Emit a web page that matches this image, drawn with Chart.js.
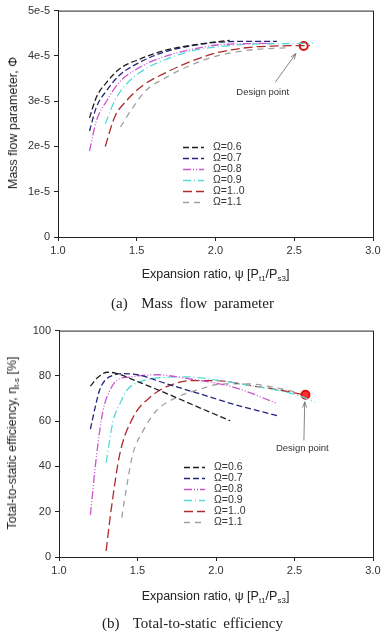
<!DOCTYPE html>
<html>
<head>
<meta charset="utf-8">
<script src="https://cdn.jsdelivr.net/npm/chart.js@4.4.0/dist/chart.umd.min.js"></script>
<style>
  body { margin: 0; background: #fff; }
  #page { position: relative; width: 385px; height: 639px; font-family: Arial, "Liberation Sans", sans-serif; color: #222; }
  canvas { position: absolute; left: 0; }
  .xtitle { position: absolute; left: 58px; width: 315px; text-align: center; font-size: 12.5px; white-space: nowrap; }
  .ytitle { position: absolute; font-size: 12.5px; white-space: nowrap; transform: translate(-50%, -50%) rotate(-90deg); }
  .caption { position: absolute; left: 0; width: 385px; text-align: center; font-family: "Times New Roman", "Liberation Serif", serif; font-size: 15px; word-spacing: 3px; }
  sub { font-size: 8px; vertical-align: -3px; }
</style>
</head>
<body>
<div id="page">
  <canvas id="chartA" width="385" height="290" style="top:0"></canvas>
  <div class="xtitle" style="top:267px">Expansion ratio, &psi; [P<sub>t1</sub>/P<sub>s3</sub>]</div>
  <div class="ytitle" style="left:13px; top:123px">Mass flow parameter, &Phi;</div>
  <div class="caption" style="top:295px">(a)&nbsp; Mass flow parameter</div>

  <canvas id="chartB" width="385" height="290" style="top:320px"></canvas>
  <div class="xtitle" style="top:589px">Expansion ratio, &psi; [P<sub>t1</sub>/P<sub>s3</sub>]</div>
  <div class="ytitle" style="left:13px; top:443px">Total-to-static efficiency, &eta;<sub>t-s</sub> [%]</div>
  <div class="caption" style="top:615px">(b)&nbsp; Total-to-static efficiency</div>
</div>
<script>
// series names
const omegaLabels = ['Ω=0.6', 'Ω=0.7', 'Ω=0.8', 'Ω=0.9', 'Ω=1..0', 'Ω=1.1'];

// ticks
const xTicks = ['1.0', '1.5', '2.0', '2.5', '3.0'];
const yTicksA = ['0', '1e-5', '2e-5', '3e-5', '4e-5', '5e-5'];
const yTicksB = ['0', '20', '40', '60', '80', '100'];

// (a) mass flow parameter - expansion ratio
const psiA06 = [1.2, 1.244, 1.31, 1.39, 1.52, 1.69, 1.86, 2.03, 2.09];
const phi06  = [2.63e-5, 3.09e-5, 3.42e-5, 3.71e-5, 3.93e-5, 4.13e-5, 4.24e-5, 4.32e-5, 4.34e-5];
const psiA07 = [1.2, 1.244, 1.31, 1.39, 1.52, 1.69, 1.86, 2.01, 2.2, 2.39];
const phi07  = [2.34e-5, 2.87e-5, 3.24e-5, 3.57e-5, 3.86e-5, 4.1e-5, 4.23e-5, 4.3e-5, 4.32e-5, 4.32e-5];
const psiA08 = [1.2, 1.244, 1.31, 1.39, 1.52, 1.69, 1.86, 2.01, 2.2, 2.36];
const phi08  = [1.9e-5, 2.57e-5, 3.01e-5, 3.42e-5, 3.75e-5, 4.0e-5, 4.15e-5, 4.24e-5, 4.27e-5, 4.28e-5];
const psiA09 = [1.3, 1.36, 1.435, 1.54, 1.69, 1.86, 2.01, 2.22, 2.4, 2.62];
const phi09  = [2.5e-5, 3.01e-5, 3.38e-5, 3.68e-5, 3.93e-5, 4.12e-5, 4.2e-5, 4.26e-5, 4.27e-5, 4.28e-5];
const psiA10 = [1.3, 1.36, 1.435, 1.54, 1.69, 1.86, 2.01, 2.22, 2.4, 2.6];
const phi10  = [2.0e-5, 2.65e-5, 3.01e-5, 3.35e-5, 3.64e-5, 3.9e-5, 4.07e-5, 4.19e-5, 4.22e-5, 4.23e-5];
const psiA11 = [1.397, 1.477, 1.56, 1.69, 1.86, 2.01, 2.22, 2.45];
const phi11  = [2.43e-5, 2.87e-5, 3.24e-5, 3.53e-5, 3.82e-5, 4.0e-5, 4.13e-5, 4.18e-5];
const designA = [2.56, 4.22e-5];

// (b) total-to-static efficiency - expansion ratio
const psiB06 = [1.2, 1.25, 1.31, 1.36, 1.5, 1.7, 1.9, 2.09];
const eta06  = [75.5, 79.5, 81.6, 81.2, 77.5, 71.8, 65.8, 60.2];
const psiB07 = [1.2, 1.23, 1.26, 1.3, 1.355, 1.4, 1.5, 1.69, 1.9, 2.11, 2.39];
const eta07  = [56.5, 66, 74, 78.5, 80.5, 81, 80.5, 76.4, 72, 67.5, 62.4];
const psiB08 = [1.2, 1.24, 1.28, 1.32, 1.366, 1.45, 1.52, 1.62, 1.8, 2.11, 2.39];
const eta08  = [18.6, 45.4, 64.6, 73, 77.9, 79.5, 80.1, 80.5, 79, 75, 67.8];
const psiB09 = [1.3, 1.345, 1.39, 1.43, 1.536, 1.685, 1.81, 2.0, 2.2, 2.4, 2.535, 2.63];
const eta09  = [41.7, 60.2, 68, 73.5, 77.9, 79.4, 79.6, 78.2, 76, 73.5, 71.2, 68.3];
const psiB10 = [1.3, 1.334, 1.387, 1.472, 1.579, 1.728, 1.855, 2.0, 2.22, 2.4, 2.56];
const eta10  = [2.7, 21.8, 45.4, 61.7, 70.5, 76.4, 77.9, 77.9, 75.7, 73.8, 71.7];
const psiB11 = [1.4, 1.43, 1.47, 1.536, 1.62, 1.75, 1.9, 2.03, 2.2, 2.4, 2.5];
const eta11  = [17.4, 30.7, 45.4, 55.8, 64.6, 70.5, 74.2, 76.4, 76.5, 74.5, 73];
const designB = [2.57, 71.7];

// line styles per series
const colors = ['#1e1e1e', '#24247c', '#cc55cc', '#55dada', '#b02a2a', '#a0a0a0'];
const dashes = [[6, 3], [6, 3], [8, 2, 1, 2, 1, 2], [8, 3, 1, 3], [9, 4], [6, 5]];

function pts(xs, ys) {
  return xs.map((x, i) => ({ x: x, y: ys[i] }));
}

function buildDatasets(xsList, ysList, design, designFill) {
  const sets = xsList.map((xs, i) => ({
    label: omegaLabels[i],
    data: pts(xs, ysList[i]),
    borderColor: colors[i],
    borderWidth: 1.3,
    borderDash: dashes[i],
    pointRadius: 0,
    cubicInterpolationMode: 'monotone',
    fill: false
  }));
  sets.push({
    label: 'design',
    data: [{ x: design[0], y: design[1] }],
    showLine: false,
    pointRadius: 4,
    pointBorderWidth: 2,
    pointBorderColor: '#e01010',
    pointBackgroundColor: designFill
  });
  return sets;
}

// box around plot area
const frame = {
  id: 'frame',
  afterDraw(chart) {
    const { ctx, chartArea: a } = chart;
    ctx.save();
    ctx.strokeStyle = '#222';
    ctx.lineWidth = 1;
    ctx.strokeRect(a.left + 0.5, a.top + 0.5, a.right - a.left, a.bottom - a.top);
    ctx.restore();
  }
};

// legend inside the plot
const innerLegend = {
  id: 'innerLegend',
  afterDraw(chart, args, opts) {
    const { ctx, chartArea: a } = chart;
    ctx.save();
    ctx.font = '10.5px Arial, "Liberation Sans", sans-serif';
    ctx.textBaseline = 'middle';
    chart.data.datasets.forEach((ds, i) => {
      if (ds.label === 'design') return;
      const y = a.top + opts.top + i * 11;
      const x = a.left + opts.left;
      ctx.strokeStyle = ds.borderColor;
      ctx.lineWidth = 1.5;
      ctx.setLineDash(ds.borderDash);
      ctx.beginPath();
      ctx.moveTo(x, y);
      ctx.lineTo(x + 21, y);
      ctx.stroke();
      ctx.setLineDash([]);
      ctx.fillStyle = '#333';
      ctx.fillText(ds.label, x + 30, y);
    });
    ctx.restore();
  }
};

// "Design point" note with arrow
const designNote = {
  id: 'designNote',
  afterDraw(chart, args, opts) {
    const { ctx, scales } = chart;
    const tx = scales.x.getPixelForValue(opts.text[0]);
    const ty = scales.y.getPixelForValue(opts.text[1]);
    const x0 = scales.x.getPixelForValue(opts.from[0]);
    const y0 = scales.y.getPixelForValue(opts.from[1]);
    const x1 = scales.x.getPixelForValue(opts.to[0]);
    const y1 = scales.y.getPixelForValue(opts.to[1]);
    ctx.save();
    ctx.font = '9.5px Arial, "Liberation Sans", sans-serif';
    ctx.fillStyle = '#333';
    ctx.textAlign = 'center';
    ctx.textBaseline = 'middle';
    ctx.fillText('Design point', tx, ty);
    ctx.strokeStyle = '#666';
    ctx.lineWidth = 0.8;
    ctx.beginPath();
    ctx.moveTo(x0, y0);
    ctx.lineTo(x1, y1);
    ctx.stroke();
    const ang = Math.atan2(y1 - y0, x1 - x0);
    ctx.beginPath();
    ctx.moveTo(x1, y1);
    ctx.lineTo(x1 - 6 * Math.cos(ang - 0.35), y1 - 6 * Math.sin(ang - 0.35));
    ctx.moveTo(x1, y1);
    ctx.lineTo(x1 - 6 * Math.cos(ang + 0.35), y1 - 6 * Math.sin(ang + 0.35));
    ctx.stroke();
    ctx.restore();
  }
};

function makeChart(id, datasets, yMax, yStep, yLabels, leftW, note) {
  const tickFont = { family: 'Arial, "Liberation Sans", sans-serif', size: 11 };
  return new Chart(document.getElementById(id), {
    type: 'line',
    data: { datasets: datasets },
    options: {
      responsive: false,
      animation: false,
      layout: { padding: { left: 0, right: 12, top: 10, bottom: 0 } },
      plugins: {
        legend: { display: false },
        tooltip: { enabled: false },
        innerLegend: { left: 125, top: 137 },
        designNote: note
      },
      scales: {
        x: {
          type: 'linear',
          min: 1, max: 3,
          ticks: {
            stepSize: 0.5,
            font: tickFont, color: '#333', padding: 3,
            callback: (v, i) => xTicks[i]
          },
          grid: { drawOnChartArea: false, drawTicks: true, tickLength: 4, color: '#222' },
          border: { color: '#222' },
          afterFit: s => { s.height = 53; }
        },
        y: {
          min: 0, max: yMax,
          ticks: {
            stepSize: yStep,
            font: tickFont, color: '#333', padding: 4,
            callback: (v, i) => yLabels[i]
          },
          grid: { drawOnChartArea: false, drawTicks: true, tickLength: 4, color: '#222' },
          border: { color: '#222' },
          afterFit: s => { s.width = leftW; }
        }
      }
    },
    plugins: [frame, innerLegend, designNote]
  });
}

makeChart('chartA',
  buildDatasets([psiA06, psiA07, psiA08, psiA09, psiA10, psiA11],
                [phi06, phi07, phi08, phi09, phi10, phi11], designA, '#ffffff'),
  5e-5, 1e-5, yTicksA, 58,
  { text: [2.3, 3.19e-5], from: [2.38, 3.42e-5], to: [2.51, 4.05e-5] });

makeChart('chartB',
  buildDatasets([psiB06, psiB07, psiB08, psiB09, psiB10, psiB11],
                [eta06, eta07, eta08, eta09, eta10, eta11], designB, '#ff3030'),
  100, 20, yTicksB, 59,
  { text: [2.55, 47.8], from: [2.56, 51.5], to: [2.565, 68.5] });
</script>
</body>
</html>
